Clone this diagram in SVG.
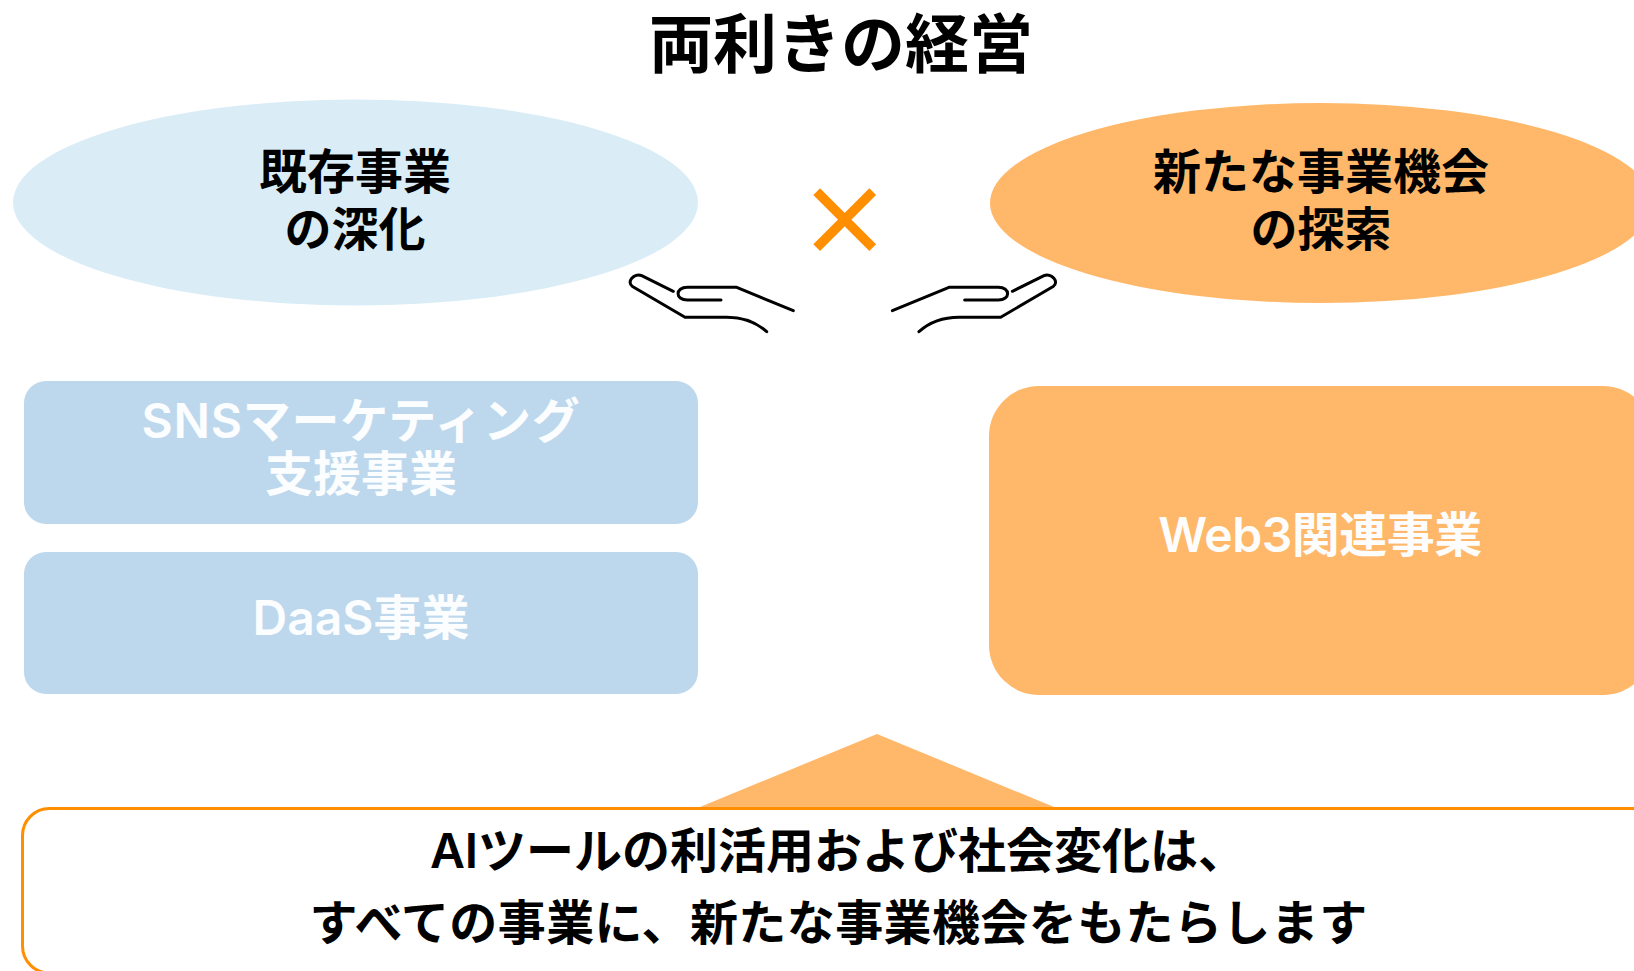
<svg xmlns="http://www.w3.org/2000/svg" width="1634" height="971" viewBox="0 0 1634 971">
<style>
text{font-family:"Noto Sans CJK JP","Noto Sans",sans-serif;font-weight:700;text-anchor:middle;font-size:48px;fill:#000}
.lat{font-family:Inter,"Liberation Sans",sans-serif;font-weight:600}
.w{fill:#FDFDFD}
.b{fill:#FBFDFF}
.hand{fill:none;stroke:#000;stroke-width:3;stroke-linecap:round;stroke-linejoin:round}
</style>
<defs>
<g id="hand-shape" class="hand">
<path d="M673.3 291.3L641.7 275.7C634 272.5 626 282 632.5 286.5L685 317.3H726.7C745 317.3 757 323 766.7 331.7"/>
<path d="M721 300H687.3C675 300 675 287.3 687.3 287.3H736.7L793.3 310.7"/>
</g>
</defs>
<rect width="1634" height="971" fill="#fff"/>
<g id="title"><text x="841" y="67" style="font-size:64px">両利きの経営</text></g>
<g id="node-left-ellipse"><ellipse cx="355.5" cy="202.5" rx="342.5" ry="103" fill="#DAEDF7"/>
<text x="355" y="189">既存事業</text><text x="355" y="246" style="font-size:47px">の深化</text></g>
<g id="node-right-ellipse"><ellipse cx="1321" cy="203" rx="331" ry="100" fill="#FFB869"/>
<text x="1321" y="189">新たな事業機会</text><text x="1321" y="246" style="font-size:47px">の探索</text></g>
<g id="times"><path d="M816.7 191.7L872.7 247.7M872.7 191.7L816.7 247.7" stroke="#FF8F00" stroke-width="9.5" fill="none"/></g>
<g id="hand-left"><use href="#hand-shape"/></g>
<g id="hand-right"><use href="#hand-shape" transform="translate(1685.67,0) scale(-1,1)"/></g>
<g id="node-sns"><rect x="24" y="381" width="674" height="143" rx="22" fill="#BDD8ED"/>
<text class="b" x="361" y="438" style="letter-spacing:.8px"><tspan class="lat">SNS</tspan>マーケティング</text><text class="b" x="361" y="491">支援事業</text></g>
<g id="node-daas"><rect x="24" y="552" width="674" height="142" rx="22" fill="#BDD8ED"/>
<text class="b" x="361" y="635"><tspan class="lat">DaaS</tspan>事業</text></g>
<g id="node-web3"><rect x="989" y="386" width="664" height="309" rx="50" fill="#FFB869"/>
<text class="w" x="1320" y="552" style="letter-spacing:-.5px"><tspan class="lat">Web3</tspan>関連事業</text></g>
<g id="connectors"><path d="M877 734L1054 807H700Z" fill="#FFB869"/></g>
<g id="node-bottom"><rect x="22.5" y="808.5" width="1660" height="164.5" rx="27" fill="#fff" stroke="#FF8F00" stroke-width="3"/>
<text x="838" y="868"><tspan class="lat">AI</tspan>ツールの利活用および社会変化は、</text>
<text x="838.5" y="940" style="letter-spacing:.4px">すべての事業に、新たな事業機会をもたらします</text></g>
</svg>
